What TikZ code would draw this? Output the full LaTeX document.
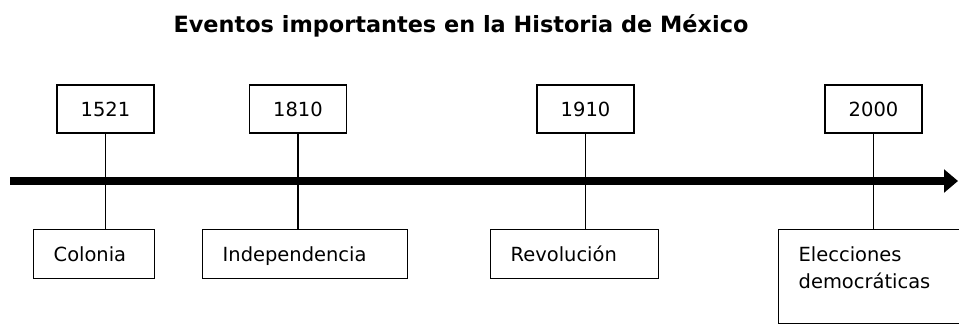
\documentclass[tikz,border=0pt]{standalone}
\usepackage{fontspec}
\setmainfont{DejaVu Sans}
\usetikzlibrary{arrows.meta,calc}

\begin{document}
\begin{tikzpicture}[x=0.75pt,y=-0.75pt,
	anio/.style={draw,line width=1pt,minimum width=72.75pt,minimum height=36pt,inner sep=0pt,font=\fontsize{14.6}{20.25}\selectfont},
	evento/.style={draw,line width=1pt,anchor=north west,align=left,text width=#1,inner xsep=15pt,inner ysep=12pt,text height=12pt,text depth=0.75pt,font=\fontsize{14.6}{20.25}\selectfont},
	enlace/.style={line width=1pt},
	eje/.style={line width=6.5pt,-{Triangle[length=10.5pt,width=17pt]}}]
				\useasboundingbox (0,0) rectangle (959,325);
				
				\node[anchor=base,font=\fontsize{16.8}{20}\selectfont\bfseries] (titulo) at (461,32) {Eventos importantes en la Historia de México};
				
				% fechas
				\node[anio] (a1) at (105.5,109) {1521};
				\node[anio] (a2) at (298,109) {1810};
				\node[anio] (a3) at (585.5,109) {1910};
				\node[anio] (a4) at (873.5,109) {2000};
				
				% eventos
				\node[evento=60.75pt] (e1) at (33,229) {Colonia};
				\node[evento=123.75pt] (e2) at (202,229) {Independencia};
				\node[evento=96pt] (e3) at (490,229) {Revolución};
				\node[evento=109pt,text depth=34.5pt] (e4) at (778,229) {Elecciones\\democráticas};
				
				\foreach \x in {1,2,3,4}{
					\draw[enlace] (a\x.south) -- (a\x.south |- e\x.north);}
				
				\coordinate (inicio) at (10,181);
				\coordinate (fin) at (958,181);
				\draw[eje] (inicio) -- (fin);
			\end{tikzpicture}
\end{document}
